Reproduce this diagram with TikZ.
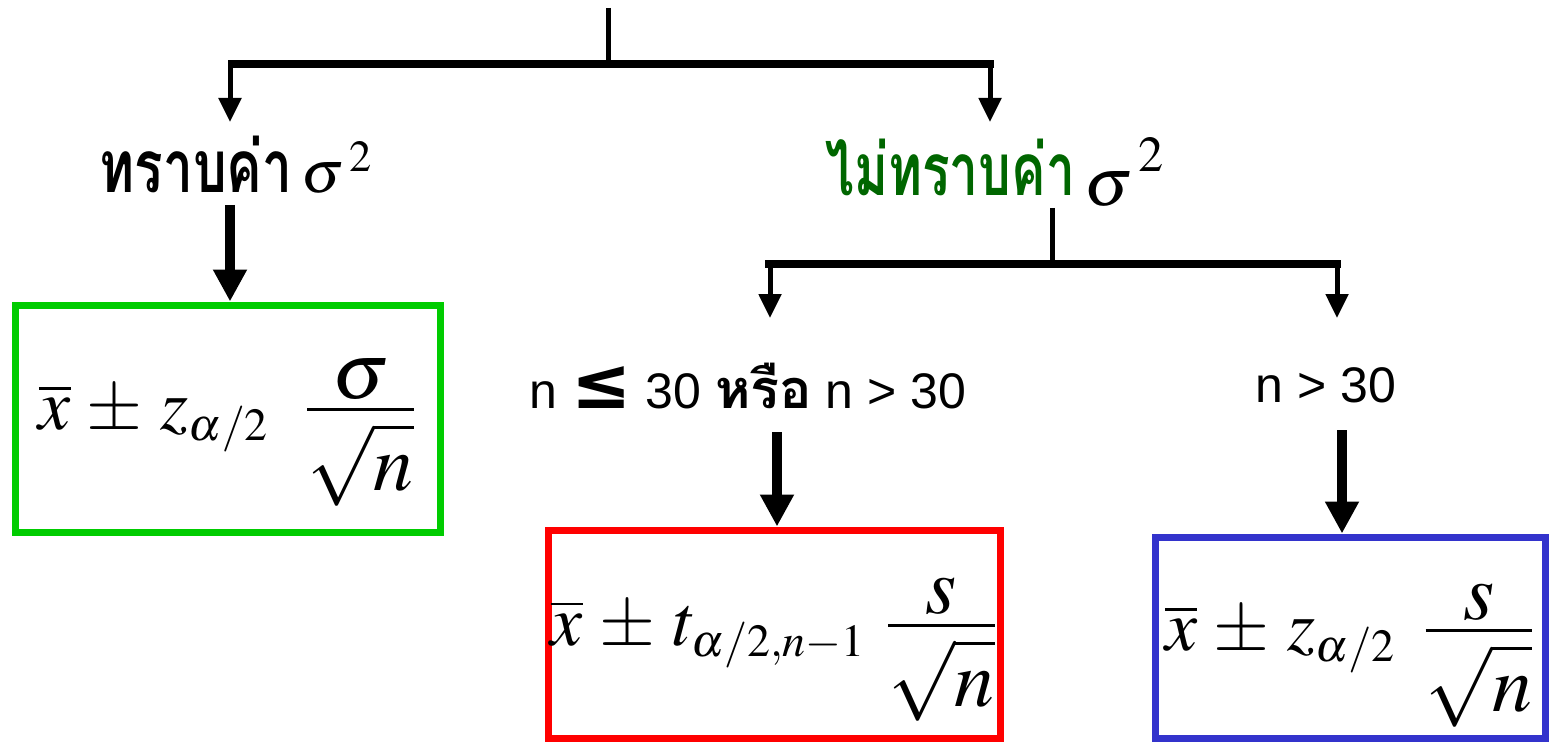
\documentclass[tikz,border=0pt]{standalone}
\usepackage{amsmath}
\usepackage{graphicx}
\usepackage{mathptmx}
\usepackage[no-math]{fontspec}
\setmainfont{Liberation Serif}
\newfontfamily\thaifont[Script=Thai]{Loma}
\newfontfamily\sansf{Liberation Sans}
\newfontfamily\symf{DejaVu Sans}
\usetikzlibrary{arrows.meta}
\DeclareMathSizes{36}{36}{23}{17}
\DeclareMathSizes{40}{40}{25}{18}
\definecolor{gbox}{RGB}{0,204,0}
\definecolor{tgreen}{RGB}{0,102,0}
\definecolor{rbox}{RGB}{255,0,0}
\definecolor{bbox}{RGB}{51,51,204}
\newcommand{\bigfrac}[2]{{\fontsize{40}{46}\selectfont$\textstyle\frac{\displaystyle\vphantom{\sigma}#1}{\displaystyle\rule{0pt}{0.95em}#2}$}}
\newcommand{\pmop}{\mskip 1.5mu\pm\mskip 2mu}
\tikzset{
  conn/.style={line width=2.5pt},
  barline/.style={line width=4pt},
  thinarr/.style={line width=2.5pt,-{Triangle[width=11pt,length=12pt]}},
  bigarr/.style={line width=5pt,-{Triangle[width=16pt,length=16pt]}},
  thailbl/.style={inner sep=0pt,anchor=base,font=\thaifont\bfseries\fontsize{28}{32}\selectfont},
  sanslbl/.style={inner sep=0pt,anchor=base,font=\sansf\fontsize{25}{30}\selectfont},
  fbox/.style={draw,line width=3.5pt,inner sep=0pt},
  formula/.style={inner sep=0pt,font=\fontsize{36}{44}\selectfont}
}
\begin{document}
\begin{tikzpicture}[x=0.5pt,y=-0.5pt]
\path[use as bounding box] (0,0) rectangle (1551,743);
% top split
\coordinate (top) at (608,8);
\coordinate (split1) at (608,64);
\coordinate (bl1) at (228,64);
\coordinate (br1) at (994,64);
\coordinate (k1) at (230,122);
\coordinate (u1) at (990,122);
\draw[conn] (top) -- (split1);
\draw[barline] (bl1) -- (br1);
\draw[thinarr] (k1 |- split1) -- (k1);
\draw[thinarr] (u1 |- split1) -- (u1);
% labels
\node[thailbl] (known) at (236,193) {\scalebox{0.95}[1.3]{ทราบค่า}\,{\fontsize{30}{32}\selectfont$\sigma^{\,2}$}};
\node[thailbl,text=tgreen] (unknown) at (995,196) {\scalebox{0.92}[1.3]{ไม่ทราบค่า}\,{\color{black}\fontsize{34}{36}\selectfont\raisebox{-5pt}{$\sigma$}$^{\,2}$}};
% boxes
\node[fbox,draw=gbox,minimum width=212.5pt,minimum height=113.5pt] (box1) at (227.5,418.5) {};
\node[fbox,draw=rbox,minimum width=226pt,minimum height=104pt] (box2) at (774,634) {};
\node[fbox,draw=bbox,minimum width=195pt,minimum height=100.5pt] (box3) at (1350,637.5) {};
\node[formula] (f1) at ([yshift=-7pt]box1.center)
  {$\overline{x}\pmop z_{\alpha/2}\mskip9mu$\bigfrac{\sigma}{\sqrt{n}}};
\node[formula] (f2) at ([yshift=-7pt]box2.center)
  {$\overline{x}\pmop t_{\alpha/2,n-1}\mskip5mu$\bigfrac{s}{\sqrt{n}}};
\node[formula] (f3) at ([yshift=-8pt]box3.center)
  {$\overline{x}\pmop z_{\alpha/2}\mskip7mu$\bigfrac{s}{\sqrt{n}}};
% left thick arrow
\coordinate (ka) at (230,205);
\draw[bigarr] (ka) -- (ka |- box1.north);
% right split
\coordinate (u2) at (1052,208);
\coordinate (split2) at (1052,264);
\coordinate (bl2) at (765,264);
\coordinate (br2) at (1341,264);
\coordinate (c1a) at (770,318);
\coordinate (c2a) at (1337,318);
\draw[conn] (u2) -- (split2);
\draw[barline] (bl2) -- (br2);
\draw[thinarr] (c1a |- split2) -- (c1a);
\draw[thinarr] (c2a |- split2) -- (c2a);
% condition labels
\node[sanslbl] (cond1) at (748,408) {n {\symf\bfseries\fontsize{36}{36}\selectfont ≤} 30 {\thaifont\bfseries\fontsize{27}{30}\selectfont หรือ} n > 30};
\node[sanslbl] (cond2) at (1326,402) {n > 30};
% thick arrows
\coordinate (ta1) at (777,432);
\coordinate (ta2) at (1342,430);
\draw[bigarr] (ta1) -- (ta1 |- box2.north);
\draw[bigarr] (ta2) -- (ta2 |- box3.north);
\end{tikzpicture}
\end{document}
